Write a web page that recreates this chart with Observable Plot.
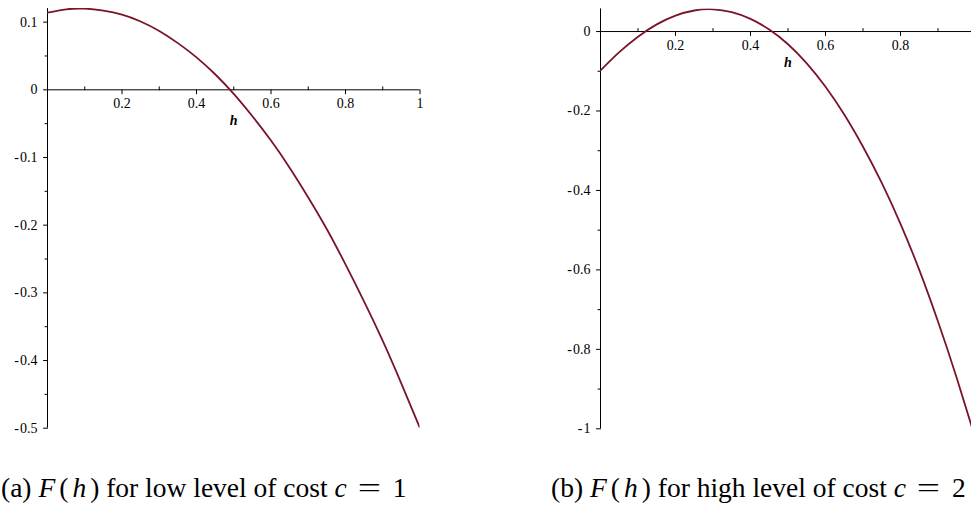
<!DOCTYPE html>
<html>
<head>
<meta charset="utf-8">
<script src="https://cdn.jsdelivr.net/npm/d3@7"></script>
<script src="https://cdn.jsdelivr.net/npm/@observablehq/plot@0.6"></script>
<style>
  html, body { margin: 0; padding: 0; background: #fff; }
  body { position: relative; width: 971px; height: 511px; overflow: hidden; font-family: "Liberation Serif", serif; }
  .panel { position: absolute; top: 0; height: 440px; }
  .panel svg { display: block; max-width: none !important; overflow: visible; }
  .cap { position: absolute; top: 474px; font-size: 27.5px; line-height: 27.5px; white-space: nowrap; color: #000; }
  .cap i { font-style: italic; }
  .cap .math { letter-spacing: 4px; }
  .cap .eq { display: inline-block; width: 29px; margin: 0 9px 0 8px; text-align: center; transform: scaleX(1.5); }
</style>
</head>
<body>
<div id="panelA" class="panel" style="left:0px;width:480px"></div>
<div id="panelB" class="panel" style="left:553px;width:442px"></div>
<div class="cap" style="left:1px">(a) <span class="math"><i>F</i>(<i>h</i></span>) for low level of cost <i>c</i><span class="eq">=</span>1</div>
<div class="cap" style="left:551px">(b) <span class="math"><i>F</i>(<i>h</i></span>) for high level of cost <i>c</i><span class="eq">=</span>2</div>
<script>
// Sample points of F(h) along h
const hValues = [0, 0.05, 0.1, 0.15, 0.2, 0.25, 0.3, 0.35, 0.4, 0.45, 0.5,
                 0.55, 0.6, 0.65, 0.7, 0.75, 0.8, 0.85, 0.9, 0.95, 1];
// c = 1 (low cost)
const fLowCost = [0.114, 0.119, 0.120, 0.117, 0.111, 0.101, 0.087, 0.069, 0.048, 0.023, -0.006,
                  -0.039, -0.075, -0.115, -0.159, -0.206, -0.258, -0.313, -0.371, -0.434, -0.5];
// c = 2 (high cost)
const fHighCost = [-0.098, -0.052, -0.013, 0.018, 0.040, 0.053, 0.056, 0.049, 0.032, 0.005, -0.032,
                   -0.080, -0.139, -0.209, -0.290, -0.381, -0.484, -0.600, -0.730, -0.872, -1.025];

// Axis ticks
const xMajorA = [0.2, 0.4, 0.6, 0.8, 1];
const xMajorLabelsA = ["0.2", "0.4", "0.6", "0.8", "1"];
const xMajorB = [0.2, 0.4, 0.6, 0.8];
const xMajorLabelsB = ["0.2", "0.4", "0.6", "0.8"];
const xMinor = [0.1, 0.3, 0.5, 0.7, 0.9];

const yMajorA = [0.1, 0, -0.1, -0.2, -0.3, -0.4, -0.5];
const yMajorLabelsA = ["0.1", "0", "-\u200a0.1", "-\u200a0.2", "-\u200a0.3", "-\u200a0.4", "-\u200a0.5"];
const yMinorA = [0.05, -0.05, -0.15, -0.25, -0.35, -0.45];

const yMajorB = [0, -0.2, -0.4, -0.6, -0.8, -1];
const yMajorLabelsB = ["0", "-\u200a0.2", "-\u200a0.4", "-\u200a0.6", "-\u200a0.8", "-\u200a1"];
const yMinorB = [-0.1, -0.3, -0.5, -0.7, -0.9];

const curveColor = "#7a1429";
const font = "Liberation Serif, serif";

// A plain stroke used for tick marks (drawn with the vector mark)
const stem = { draw(context, l) { context.moveTo(0, 0); context.lineTo(0, -l); } };

function panel({values, yDomain, xMajor, xMajorLabels, yMajor, yMajorLabels, yMinor, width, margins}) {
  const rows = hValues.map((h, i) => ({h, F: values[i]}));
  const xTicks = xMajor.map((v, i) => ({v, label: xMajorLabels[i]}));
  const yTicks = yMajor.map((v, i) => ({v, label: yMajorLabels[i]}));
  return Plot.plot({
    width,
    height: 440,
    marginLeft: margins.left,
    marginRight: margins.right,
    marginTop: margins.top,
    marginBottom: margins.bottom,
    x: {domain: [0, 1], axis: null},
    y: {domain: yDomain, axis: null},
    style: {fontFamily: font, fontSize: "14px", color: "#000", background: "transparent"},
    marks: [
      Plot.ruleY([0], {stroke: "#000", strokeWidth: 1}),
      Plot.ruleX([0], {stroke: "#000", strokeWidth: 1}),
      // x ticks: major below the axis, minor above
      Plot.vector(xTicks, {x: "v", y: 0, length: 4, rotate: 180, anchor: "start", shape: stem, stroke: "#000", strokeWidth: 1}),
      Plot.vector(xMinor, {x: d => d, y: 0, length: 3, rotate: 0, anchor: "start", shape: stem, stroke: "#000", strokeWidth: 1}),
      // y ticks to the left of the axis
      Plot.vector(yTicks, {x: 0, y: "v", length: 4, rotate: 270, anchor: "start", shape: stem, stroke: "#000", strokeWidth: 1}),
      Plot.vector(yMinor, {x: 0, y: d => d, length: 2.5, rotate: 270, anchor: "start", shape: stem, stroke: "#000", strokeWidth: 1}),
      // tick labels
      Plot.text(xTicks, {x: "v", y: 0, text: "label", dy: 14, fill: "#000", fontFamily: font, fontSize: 14}),
      Plot.text(yTicks, {x: 0, y: "v", text: "label", dx: -10, textAnchor: "end", fill: "#000", fontFamily: font, fontSize: 14}),
      // axis title
      Plot.text(["h"], {x: 0.5, y: 0, text: d => d, dy: 31, fontFamily: font, fontStyle: "italic", fontWeight: "bold", fontSize: 14, fill: "#000"}),
      // the curve
      Plot.line(rows, {x: "h", y: "F", curve: "natural", stroke: curveColor, strokeWidth: 1.8, clip: true})
    ]
  });
}

document.getElementById("panelA").append(panel({
  values: fLowCost,
  yDomain: [-0.5, 0.12],
  xMajor: xMajorA, xMajorLabels: xMajorLabelsA,
  yMajor: yMajorA, yMajorLabels: yMajorLabelsA, yMinor: yMinorA,
  width: 480,
  margins: {left: 47, right: 60.5, top: 8.1, bottom: 12.3}
}));

document.getElementById("panelB").append(panel({
  values: fHighCost,
  yDomain: [-1, 0.057],
  xMajor: xMajorB, xMajorLabels: xMajorLabelsB,
  yMajor: yMajorB, yMajorLabels: yMajorLabelsB, yMinor: yMinorB,
  width: 442,
  margins: {left: 47, right: 20, top: 8.4, bottom: 11.7}
}));
</script>
</body>
</html>
